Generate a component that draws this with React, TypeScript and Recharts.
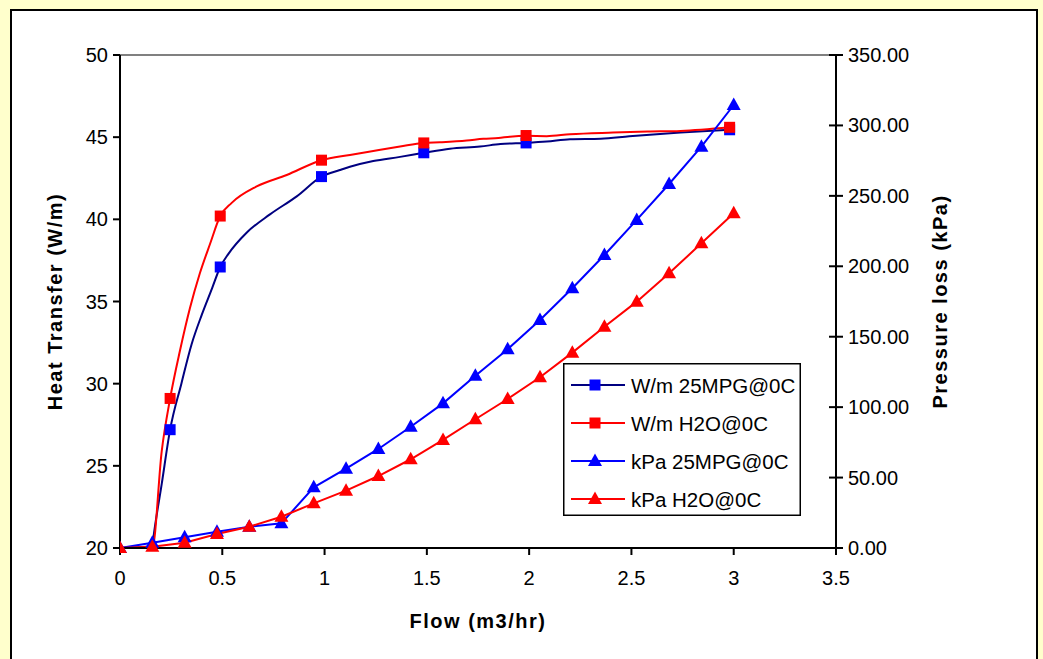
import { ComposedChart, Label, Line, ReferenceLine, XAxis, YAxis } from 'recharts'

// flow (m3/hr) at which the markers sit
const squareFlow = [0.245, 0.49, 0.985, 1.485, 1.985, 2.98]
const wm25Markers = [27.2, 37.1, 42.6, 44.05, 44.65, 45.45]
const wmH2OMarkers = [29.1, 40.2, 43.6, 44.65, 45.1, 45.6]

// smoothed heat transfer curves (more points than markers)
const curve25Flow = [0, 0.158, 0.163, 0.204, 0.245, 0.3, 0.35, 0.4, 0.45, 0.49, 0.53, 0.62, 0.733, 0.864, 0.985, 1.075, 1.124, 1.238, 1.369, 1.485, 1.613, 1.76, 1.86, 1.985, 2.086, 2.2, 2.35, 2.49, 2.74, 2.98]
const curve25Value = [20, 20.1, 20.6, 23.9, 27.2, 30.0, 32.4, 34.2, 35.8, 37.1, 37.9, 39.2, 40.3, 41.4, 42.6, 43.0, 43.2, 43.55, 43.8, 44.05, 44.3, 44.43, 44.58, 44.65, 44.73, 44.87, 44.9, 45.05, 45.28, 45.45]
const curveH2OFlow = [0, 0.158, 0.204, 0.245, 0.293, 0.342, 0.39, 0.44, 0.49, 0.546, 0.668, 0.815, 0.985, 1.124, 1.238, 1.369, 1.485, 1.564, 1.695, 1.776, 1.85, 1.906, 1.985, 2.086, 2.2, 2.41, 2.58, 2.74, 2.98]
const curveH2OValue = [20, 20, 25.9, 29.1, 32.0, 34.6, 36.7, 38.5, 40.2, 41.0, 42.0, 42.7, 43.6, 43.92, 44.16, 44.43, 44.65, 44.69, 44.79, 44.9, 44.95, 45.03, 45.08, 45.06, 45.18, 45.28, 45.34, 45.38, 45.6]

// pressure loss (kPa)
const triFlow = [0, 0.158, 0.316, 0.474, 0.632, 0.789, 0.947, 1.105, 1.263, 1.421, 1.579, 1.737, 1.895, 2.053, 2.211, 2.368, 2.526, 2.684, 2.842, 3.0]
const kpa25 = [0, 3.8, 7.6, 11.6, 15.1, 17.5, 43.1, 56.3, 70.3, 86.1, 102.7, 122.3, 141.1, 161.9, 184.4, 208, 232.9, 258.4, 284.9, 314.5]
const kpaH2O = [0, 0.9, 3.8, 9.9, 15.1, 22.2, 31.7, 40.7, 51.1, 63, 76.7, 91.4, 105.8, 121.2, 138.7, 157.1, 174.9, 195, 216.3, 237.6]

const xTicks = [0, 0.5, 1, 1.5, 2, 2.5, 3, 3.5]
const leftTicks = [20, 25, 30, 35, 40, 45, 50]
const rightTicks = [0, 50, 100, 150, 200, 250, 300, 350]

const seriesNames = ['W/m 25MPG@0C', 'W/m H2O@0C', 'kPa 25MPG@0C', 'kPa H2O@0C']

const NAVY = '#000080'
const BLUE = '#0000ff'
const RED = '#ff0000'
const FONT = 'Liberation Sans, Arial, sans-serif'
const TICK_SIZE = 7
const RIGHT_MARGIN = 5

const zip = (xs: number[], ys: number[]) => xs.map((flow, i) => ({ flow, value: ys[i] }))

function squareDot(color: string) {
  return (props: any) => {
    const { cx, cy, index } = props
    if (cx == null || cy == null) return <g key={index} />
    return <rect key={index} x={cx - 5.5} y={cy - 5.5} width={11} height={11} fill={color} />
  }
}

function triangleDot(color: string) {
  return (props: any) => {
    const { cx, cy, index } = props
    if (cx == null || cy == null) return <g key={index} />
    return <polygon key={index} points={`${cx},${cy - 7.5} ${cx + 7},${cy + 5} ${cx - 7},${cy + 5}`} fill={color} />
  }
}

// right axis ticks cross the axis line, so draw the inner half with the label
function RightTick(props: any) {
  const { x, y, payload } = props
  const axisX = x - RIGHT_MARGIN - TICK_SIZE
  return (
    <g>
      <line x1={axisX - TICK_SIZE} x2={axisX} y1={y} y2={y} stroke="#000" strokeWidth={2} />
      <text x={x} y={y} textAnchor="start" dominantBaseline="central" fill="#000" fontSize={20} fontFamily={FONT}>
        {Number(payload.value).toFixed(2)}
      </text>
    </g>
  )
}

function LegendBox() {
  const rows = [
    { name: seriesNames[0], line: NAVY, marker: BLUE, shape: 'square' },
    { name: seriesNames[1], line: RED, marker: RED, shape: 'square' },
    { name: seriesNames[2], line: BLUE, marker: BLUE, shape: 'triangle' },
    { name: seriesNames[3], line: RED, marker: RED, shape: 'triangle' },
  ]
  return (
    <svg width={238} height={153} style={{ display: 'block' }}>
      <rect x={0.75} y={0.75} width={236.5} height={151.5} fill="#fff" stroke="#000" strokeWidth={1.5} />
      {rows.map((r, i) => {
        const y = 22 + i * 38
        return (
          <g key={r.name}>
            <line x1={8} x2={62} y1={y} y2={y} stroke={r.line} strokeWidth={2} />
            {r.shape === 'square' ? (
              <rect x={26.5} y={y - 5.5} width={11} height={11} fill={r.marker} />
            ) : (
              <polygon points={`32,${y - 7.5} 39,${y + 5} 25,${y + 5}`} fill={r.marker} />
            )}
            <text x={68} y={y} dominantBaseline="central" fontFamily={FONT} fontSize={20.5} fill="#000">
              {r.name}
            </text>
          </g>
        )
      })}
    </svg>
  )
}

const tickStyle = { fill: '#000', fontSize: 20, fontFamily: FONT }
const titleProps = { fontFamily: FONT, fontWeight: 'bold', fontSize: 20, letterSpacing: 1.5, fill: '#000' }

export default function App() {
  return (
    <div style={{ position: 'absolute', left: 0, top: 0, width: 1043, height: 659, background: '#ffffcc', overflow: 'hidden' }}>
      <div style={{ position: 'absolute', left: 10, top: 9, width: 1024, height: 680, background: '#fff', border: '2px solid #000' }} />
      <div style={{ position: 'absolute', left: 0, top: 0 }}>
        <ComposedChart width={1043} height={659} margin={{ top: 55, right: 0, bottom: 0, left: 0 }}>
          <XAxis
            dataKey="flow"
            type="number"
            domain={[0, 3.5]}
            ticks={xTicks}
            allowDataOverflow
            stroke="#000"
            strokeWidth={2}
            tickSize={TICK_SIZE}
            tickMargin={16}
            height={111}
            tick={tickStyle}
          >
            <Label
              content={(p: any) => (
                <text x={p.viewBox.x + p.viewBox.width / 2} y={p.viewBox.y + 73} textAnchor="middle" dominantBaseline="central" {...titleProps}>
                  Flow (m3/hr)
                </text>
              )}
            />
          </XAxis>
          <YAxis
            yAxisId="left"
            type="number"
            domain={[20, 50]}
            ticks={leftTicks}
            width={120}
            stroke="#000"
            strokeWidth={2}
            tickSize={TICK_SIZE}
            tickMargin={5}
            tick={tickStyle}
          >
            <Label
              content={(p: any) => {
                const cx = p.viewBox.x + 55
                const cy = p.viewBox.y + p.viewBox.height / 2
                return (
                  <text x={cx} y={cy} transform={`rotate(-90 ${cx} ${cy})`} textAnchor="middle" dominantBaseline="central" {...titleProps}>
                    Heat Transfer (W/m)
                  </text>
                )
              }}
            />
          </YAxis>
          <YAxis
            yAxisId="right"
            orientation="right"
            type="number"
            domain={[0, 350]}
            ticks={rightTicks}
            width={207}
            stroke="#000"
            strokeWidth={2}
            tickSize={TICK_SIZE}
            tickMargin={RIGHT_MARGIN}
            tick={<RightTick />}
          >
            <Label
              content={(p: any) => {
                const cx = p.viewBox.x + 104
                const cy = p.viewBox.y + p.viewBox.height / 2
                return (
                  <text x={cx} y={cy} transform={`rotate(-90 ${cx} ${cy})`} textAnchor="middle" dominantBaseline="central" {...titleProps}>
                    Pressure loss (kPa)
                  </text>
                )
              }}
            />
          </YAxis>
          <ReferenceLine yAxisId="left" y={50} stroke="#808080" strokeWidth={2} />
          <Line yAxisId="left" data={zip(curve25Flow, curve25Value)} dataKey="value" type="monotone" stroke={NAVY} strokeWidth={2} dot={false} isAnimationActive={false} />
          <Line yAxisId="left" data={zip(squareFlow, wm25Markers)} dataKey="value" stroke="none" dot={squareDot(BLUE)} activeDot={false} isAnimationActive={false} name={seriesNames[0]} />
          <Line yAxisId="left" data={zip(curveH2OFlow, curveH2OValue)} dataKey="value" type="monotone" stroke={RED} strokeWidth={2} dot={false} isAnimationActive={false} />
          <Line yAxisId="left" data={zip(squareFlow, wmH2OMarkers)} dataKey="value" stroke="none" dot={squareDot(RED)} activeDot={false} isAnimationActive={false} name={seriesNames[1]} />
          <Line yAxisId="right" data={zip(triFlow, kpa25)} dataKey="value" stroke={BLUE} strokeWidth={2} dot={triangleDot(BLUE)} activeDot={false} isAnimationActive={false} name={seriesNames[2]} />
          <Line yAxisId="right" data={zip(triFlow, kpaH2O)} dataKey="value" stroke={RED} strokeWidth={2} dot={triangleDot(RED)} activeDot={false} isAnimationActive={false} name={seriesNames[3]} />
        </ComposedChart>
      </div>
      <div style={{ position: 'absolute', left: 563, top: 363 }}>
        <LegendBox />
      </div>
    </div>
  )
}
